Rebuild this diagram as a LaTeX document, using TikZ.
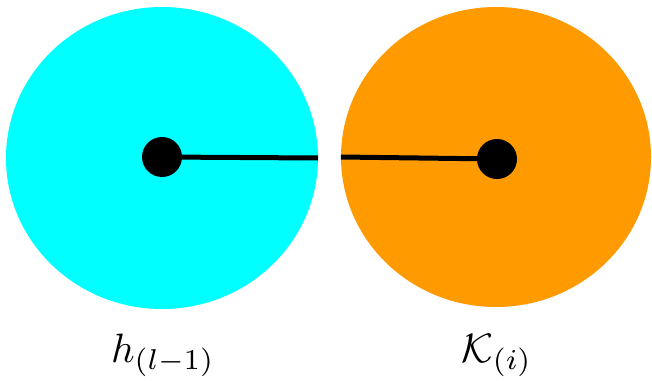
\documentclass[tikz,border=0pt]{standalone}
\usepackage{graphicx}
\usetikzlibrary{shapes.geometric}
\definecolor{cyanfill}{RGB}{0,255,255}
\definecolor{orangefill}{RGB}{255,154,0}
\begin{document}
\begin{tikzpicture}[x=1pt,y=-1pt,
  blob/.style={ellipse,inner sep=0pt,draw=none},
  dot/.style={circle,fill=black,inner sep=0pt,minimum size=40pt},
  link/.style={line width=5pt,black},
  lbl/.style={anchor=base,inner sep=0pt}]
\useasboundingbox (0,0) rectangle (652,380);
\node[blob,fill=cyanfill,minimum width=312pt,minimum height=302pt] (A) at (162,158) {};
\node[blob,fill=orangefill,minimum width=310pt,minimum height=300pt] (B) at (496,157) {};
\node[dot] (da) at (162,157) {};
\node[dot] (db) at (497,159) {};
\draw[link] (da.center) -- (A.east);
\draw[link] (B.west) -- (db.center);
\node[lbl] (la) at (163,362) {\scalebox{4.1}{$h_{(l-1)}$}};
\node[lbl] (lb) at (497,362) {\scalebox{4.1}{$\mathcal{K}_{(i)}$}};
\end{tikzpicture}
\end{document}
